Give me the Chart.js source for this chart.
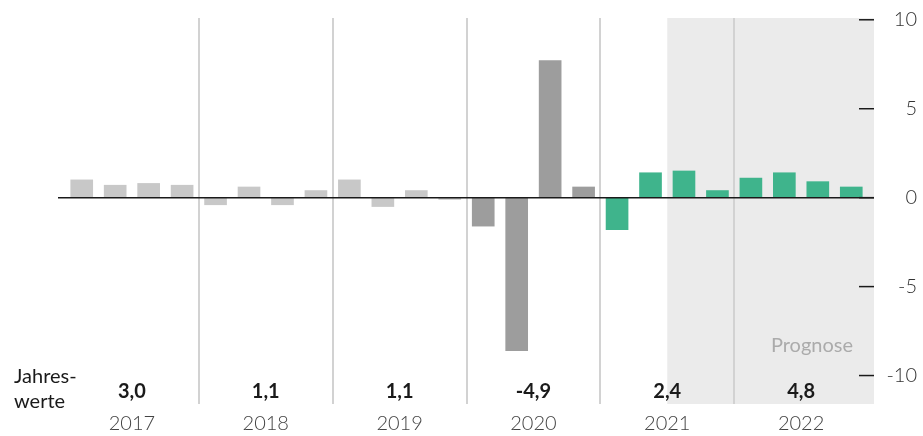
<!DOCTYPE html>
<html>
<head>
<meta charset="utf-8">
<script src="https://cdn.jsdelivr.net/npm/chart.js@4"></script>
<style>
  html, body { margin:0; padding:0; background:#fff; }
</style>
</head>
<body>
<canvas id="mycanvas" width="923" height="436"></canvas>
<script>
// quarterly change in %, 2017 Q1 .. 2022 Q4
var quarters = ['I/17','II/17','III/17','IV/17','I/18','II/18','III/18','IV/18',
                'I/19','II/19','III/19','IV/19','I/20','II/20','III/20','IV/20',
                'I/21','II/21','III/21','IV/21','I/22','II/22','III/22','IV/22'];
var growth = [1.0, 0.7, 0.8, 0.7,  -0.4, 0.6, -0.4, 0.4,
              1.0, -0.5, 0.4, -0.1, -1.6, -8.6, 7.7, 0.6,
              -1.8, 1.4, 1.5, 0.4,  1.1, 1.4, 0.9, 0.6];
var years = ['2017','2018','2019','2020','2021','2022'];
var annual = [3.0, 1.1, 1.1, -4.9, 2.4, 4.8];
var yTicks = [-10, -5, 0, 5, 10];
var forecastStart = 18; // first quarter of the Prognose

var FONT = 'Lato, "Noto Sans", sans-serif';

function barColor(i) {
  var y = Math.floor(i / 4);
  if (y < 3) return '#c8c8c8';
  if (y == 3) return '#9d9d9d';
  return '#3fb48c';
}

var deco = {
  id: 'deco',
  beforeDatasetsDraw: function(chart) {
    var c = chart.ctx, a = chart.chartArea, x = chart.scales.x;
    var gx = (x.getPixelForValue(forecastStart - 1) + x.getPixelForValue(forecastStart)) / 2;
    c.save();
    c.fillStyle = '#ebebeb';
    c.fillRect(gx, a.top, a.right + 6 - gx, a.bottom - a.top);
    c.strokeStyle = '#d2d2d2';
    c.lineWidth = 2;
    for (var k = 4; k < quarters.length; k += 4) {
      var dx = Math.round((x.getPixelForValue(k - 1) + x.getPixelForValue(k)) / 2);
      c.beginPath(); c.moveTo(dx, a.top); c.lineTo(dx, a.bottom); c.stroke();
    }
    c.restore();
  },
  afterDatasetsDraw: function(chart) {
    var c = chart.ctx, a = chart.chartArea, y = chart.scales.y;
    c.save();
    c.strokeStyle = '#1a1a1a';
    c.lineWidth = 1.5;
    var zy = y.getPixelForValue(0);
    c.beginPath(); c.moveTo(a.left - 7, zy); c.lineTo(a.right + 6, zy); c.stroke();
    yTicks.forEach(function(v) {
      var ty = y.getPixelForValue(v);
      c.beginPath(); c.moveTo(a.right - 9, ty); c.lineTo(a.right + 6, ty); c.stroke();
    });
    c.restore();
  },
  afterDraw: function(chart) {
    var c = chart.ctx, a = chart.chartArea, x2 = chart.scales.x2;
    c.save();
    c.fillStyle = '#1a1a1a';
    c.font = '20px ' + FONT;
    c.textAlign = 'left';
    c.textBaseline = 'alphabetic';
    c.fillText('Jahres-', 14, a.bottom - 21);
    c.fillText('werte', 14, a.bottom + 4);
    c.font = 'bold 20px ' + FONT;
    c.textAlign = 'center';
    annual.forEach(function(v, i) {
      c.fillText(v.toFixed(1).replace('.', ','), x2.getPixelForValue(i), a.bottom - 6);
    });
    c.font = '20px ' + FONT;
    c.fillStyle = '#ababab';
    c.textAlign = 'right';
    c.fillText('Prognose', a.right - 15, a.bottom - 52);
    c.restore();
  }
};

var chartdata = {
  labels: quarters,
  datasets: [{
    data: growth,
    backgroundColor: growth.map(function(v, i) { return barColor(i); }),
    barThickness: 22,
    xAxisID: 'x',
    yAxisID: 'y'
  }]
};

var opt = {
  responsive: false,
  animation: false,
  devicePixelRatio: 1,
  layout: { padding: { left: 65, right: 6, top: 18, bottom: 0 } },
  plugins: { legend: { display: false }, tooltip: { enabled: false } },
  scales: {
    x: {
      type: 'category',
      display: false,
      offset: true
    },
    x2: {
      type: 'category',
      labels: years,
      position: 'bottom',
      offset: true,
      grid: { display: false, drawTicks: false },
      border: { display: false },
      afterFit: function(s) { s.height = 32; s.paddingLeft = 0; s.paddingRight = 0; },
      ticks: { color: '#444', padding: 8, font: { family: FONT, size: 20, weight: '300' } }
    },
    y: {
      position: 'right',
      min: -11.6,
      max: 10.1,
      grid: { display: false, drawTicks: false },
      border: { display: false },
      afterFit: function(s) { s.width = 49; s.paddingTop = 0; s.paddingBottom = 0; },
      afterBuildTicks: function(s) { s.ticks = yTicks.map(function(v) { return { value: v }; }); },
      ticks: {
        crossAlign: 'far',
        padding: 20,
        color: '#333',
        font: { family: FONT, size: 20, weight: '300' },
        callback: function(v) { return String(v); }
      }
    }
  }
};

var ctx = document.getElementById('mycanvas');
var graph = new Chart(ctx, { type: 'bar', data: chartdata, options: opt, plugins: [deco] });
</script>
</body>
</html>
